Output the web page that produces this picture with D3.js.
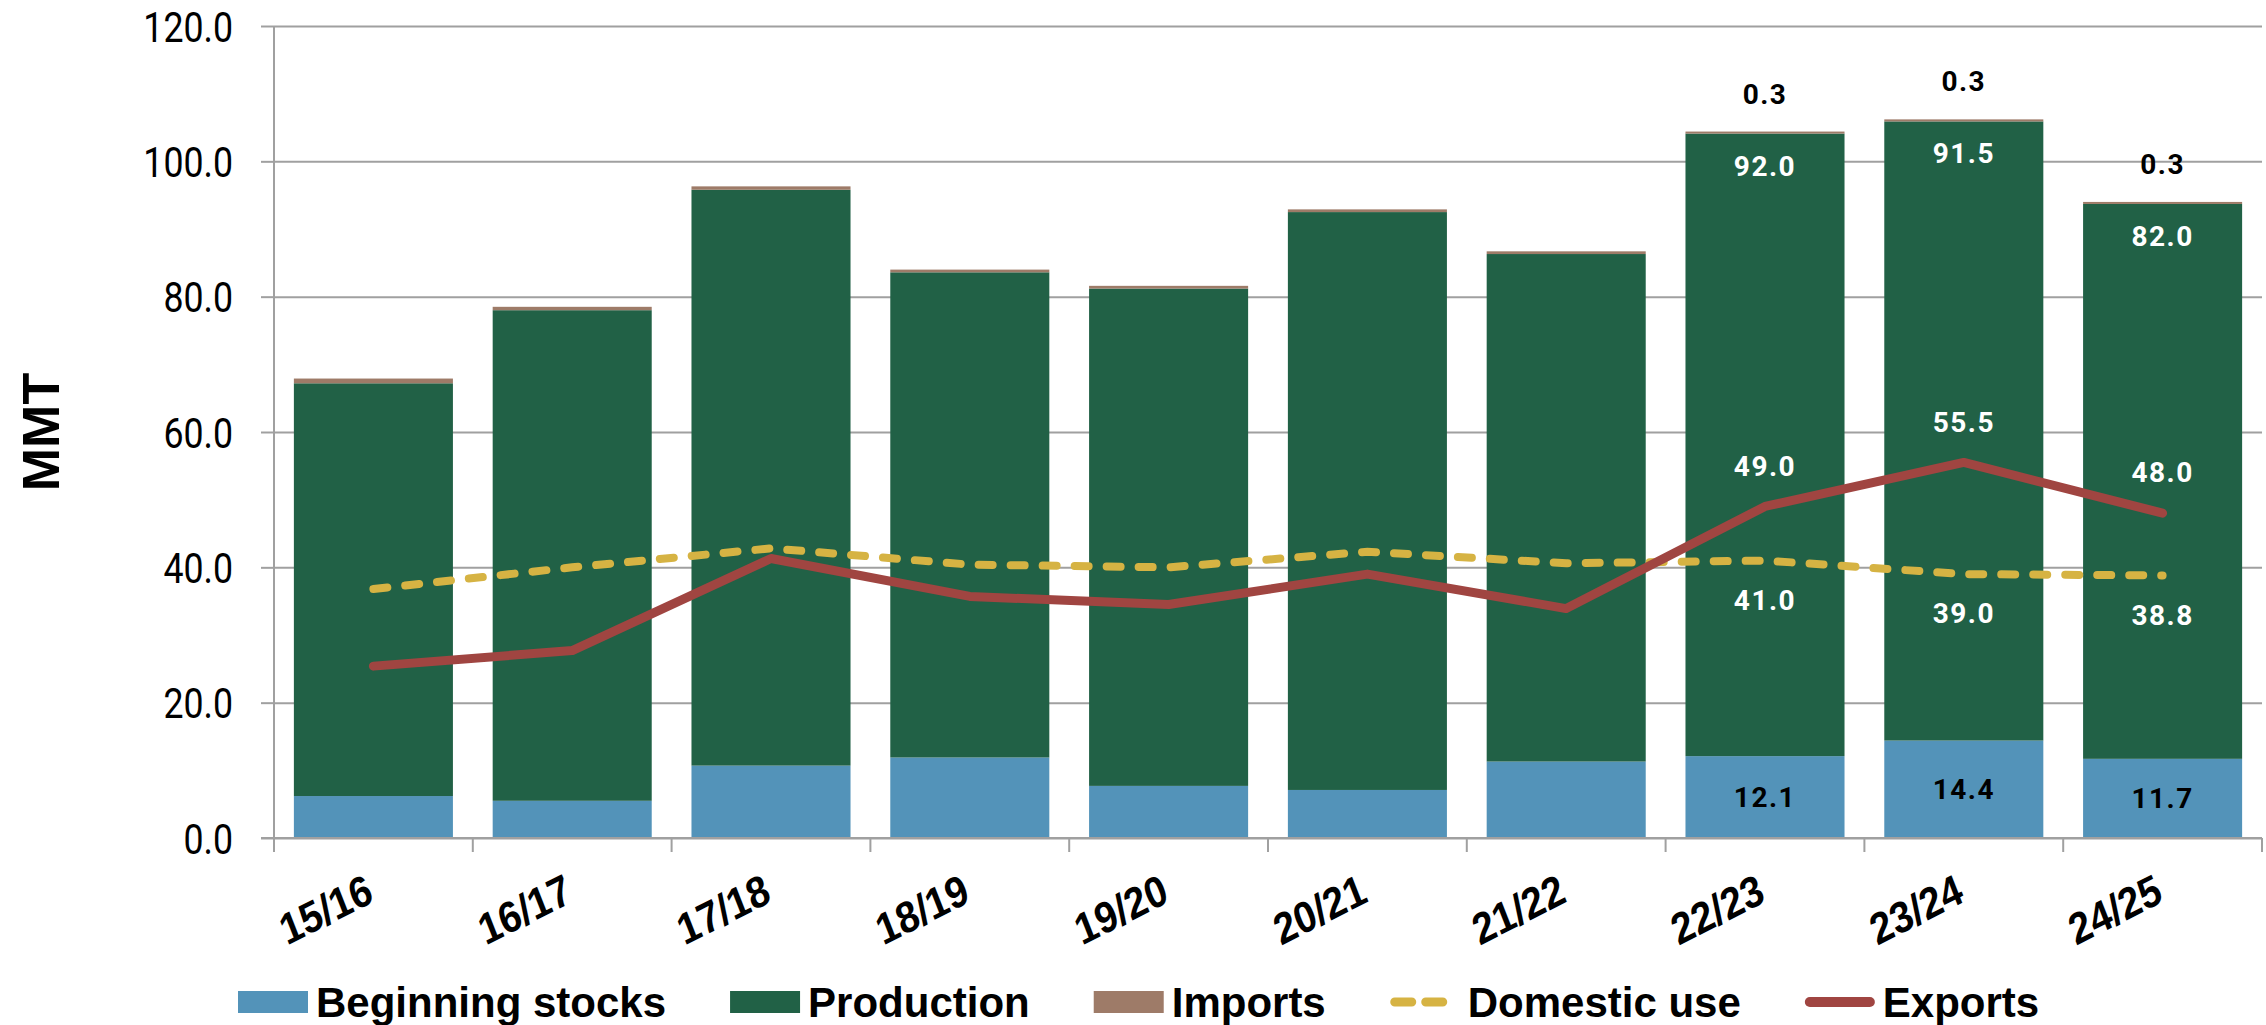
<!DOCTYPE html>
<html>
<head>
<meta charset="utf-8">
<script src="https://cdn.jsdelivr.net/npm/d3@7"></script>
<style>
  html, body { margin: 0; padding: 0; background: #fff; }
  svg { display: block; }
</style>
</head>
<body>
<svg id="chart" width="2266" height="1025"></svg>
<script>
// ---- Data (MMT) ----
const categories = ["15/16", "16/17", "17/18", "18/19", "19/20", "20/21", "21/22", "22/23", "23/24", "24/25"];
const beginningStocks = [6.2, 5.5, 10.7, 11.9, 7.7, 7.1, 11.3, 12.1, 14.4, 11.7];
const production = [61.0, 72.5, 85.1, 71.7, 73.5, 85.4, 75.0, 92.0, 91.5, 82.0];
const imports = [0.7, 0.5, 0.5, 0.4, 0.4, 0.4, 0.4, 0.3, 0.3, 0.3];
const domesticUse = [36.8, 40.0, 42.8, 40.4, 40.0, 42.3, 40.6, 41.0, 39.0, 38.8];
const exportsData = [25.4, 27.7, 41.3, 35.7, 34.5, 39.0, 33.9, 49.0, 55.5, 48.0];
const labeledCategories = ["22/23", "23/24", "24/25"];
const yTicks = [0, 20, 40, 60, 80, 100, 120];
const yLabel = "MMT";
const legendItems = ["Beginning stocks", "Production", "Imports", "Domestic use", "Exports"];

// ---- Styles ----
const colors = {
  stocks: "#5393b9",
  production: "#216146",
  imports: "#9e7b68",
  domestic: "#d6b343",
  exports: "#a04541",
  grid: "#a0a0a0"
};

const svg = d3.select("#chart");
const plot = { left: 274, right: 2262, top: 26, bottom: 838 };

const x = d3.scaleBand().domain(categories).range([plot.left, plot.right])
  .paddingInner(0.2).paddingOuter(0.1);
const y = d3.scaleLinear().domain([0, 120]).range([plot.bottom, plot.top]);

// table for stacking
const table = categories.map((c, i) => ({
  cat: c, stocks: beginningStocks[i], production: production[i], imports: imports[i],
  domestic: domesticUse[i], exports: exportsData[i]
}));

// ---- Gridlines ----
const gridG = svg.append("g").attr("transform", `translate(${plot.left},0)`)
  .call(d3.axisLeft(y).tickValues(yTicks).tickSizeInner(-(plot.right - plot.left)).tickSizeOuter(0).tickFormat(""));
gridG.select(".domain").remove();
gridG.selectAll("line").attr("stroke", colors.grid).attr("stroke-width", 2);

// ---- Y axis with labels ----
const yAxisG = svg.append("g").attr("transform", `translate(${plot.left},0)`)
  .call(d3.axisLeft(y).tickValues(yTicks).tickSize(13).tickFormat(d3.format(".1f")));
yAxisG.select(".domain").remove();
yAxisG.selectAll("line").attr("stroke", colors.grid).attr("stroke-width", 2);
yAxisG.selectAll("text")
  .attr("x", 0).attr("dy", "0.36em")
  .attr("transform", "translate(-41,0) scale(0.85,1)")
  .attr("text-anchor", "end")
  .attr("fill", "#000")
  .style("font-family", "Roboto, 'Noto Sans', sans-serif")
  .style("font-size", "42px");

// ---- Stacked bars ----
const stack = d3.stack().keys(["stocks", "production", "imports"]);
const series = stack(table);
const barG = svg.append("g");
barG.selectAll("g.layer").data(series).join("g")
  .attr("class", "layer")
  .attr("fill", d => colors[d.key])
  .selectAll("rect").data(d => d).join("rect")
  .attr("x", d => x(d.data.cat))
  .attr("width", x.bandwidth())
  .attr("y", d => y(d[1]))
  .attr("height", d => y(d[0]) - y(d[1]));

// ---- Axis lines (drawn over bars) ----
svg.append("line")
  .attr("x1", plot.left).attr("x2", plot.left)
  .attr("y1", plot.top).attr("y2", plot.bottom + 14)
  .attr("stroke", colors.grid).attr("stroke-width", 2);
svg.append("line")
  .attr("x1", plot.left - 13).attr("x2", plot.right)
  .attr("y1", plot.bottom).attr("y2", plot.bottom)
  .attr("stroke", colors.grid).attr("stroke-width", 2);
// boundary ticks
const boundaries = d3.range(categories.length + 1).map(i => plot.left + i * x.step());
svg.append("g").selectAll("line").data(boundaries).join("line")
  .attr("x1", d => d).attr("x2", d => d)
  .attr("y1", plot.bottom).attr("y2", plot.bottom + 14)
  .attr("stroke", colors.grid).attr("stroke-width", 2);

// ---- X axis labels ----
const xAxisG = svg.append("g").attr("transform", `translate(0,${plot.bottom})`)
  .call(d3.axisBottom(x).tickSize(0).tickPadding(0));
xAxisG.select(".domain").remove();
xAxisG.selectAll("text")
  .attr("x", 0).attr("y", 0).attr("dy", 0)
  .attr("transform", "translate(2,63) scale(0.88,1) rotate(-24)")
  .attr("text-anchor", "end")
  .attr("fill", "#000")
  .style("font-family", "'Liberation Sans', Arial, sans-serif")
  .style("font-weight", "bold")
  .style("font-size", "44px");

// ---- Lines ----
const cx = c => x(c) + x.bandwidth() / 2;
const domLine = d3.line().x(d => cx(d.cat)).y(d => y(d.domestic));
const expLine = d3.line().x(d => cx(d.cat)).y(d => y(d.exports));
svg.append("path").datum(table)
  .attr("d", domLine).attr("fill", "none")
  .attr("stroke", colors.domestic).attr("stroke-width", 8)
  .attr("stroke-dasharray", "14,18").attr("stroke-linecap", "round");
svg.append("path").datum(table)
  .attr("d", expLine).attr("fill", "none")
  .attr("stroke", colors.exports).attr("stroke-width", 9)
  .attr("stroke-linecap", "round").attr("stroke-linejoin", "round");

// ---- Value labels ----
const fmt = d3.format(".1f");
const lab = table.filter(d => labeledCategories.includes(d.cat));
const labelG = svg.append("g")
  .style("font-family", "Roboto, 'Noto Sans', sans-serif")
  .style("font-weight", "bold")
  .style("font-size", "28px")
  .style("letter-spacing", "1.5px")
  .attr("text-anchor", "middle");
function addLabels(getY, getText, fill) {
  labelG.append("g").selectAll("text").data(lab).join("text")
    .attr("x", d => cx(d.cat))
    .attr("y", getY)
    .attr("dy", "0.36em")
    .attr("fill", fill)
    .text(getText);
}
addLabels(d => (y(0) + y(d.stocks)) / 2, d => fmt(d.stocks), "#000");
addLabels(d => y(d.stocks + d.production) + 32, d => fmt(d.production), "#fff");
addLabels(d => y(d.stocks + d.production + d.imports) - 38, d => fmt(d.imports), "#000");
addLabels(d => y(d.exports) - 41, d => fmt(d.exports), "#fff");
addLabels(d => y(d.domestic) + 39, d => fmt(d.domestic), "#fff");

// ---- Y axis title ----
svg.append("text")
  .attr("transform", `translate(40,${(plot.top + plot.bottom) / 2}) rotate(-90)`)
  .attr("text-anchor", "middle")
  .attr("dy", "0.36em")
  .style("font-family", "'Liberation Sans', Arial, sans-serif")
  .style("font-weight", "bold")
  .style("font-size", "52px")
  .text(yLabel);

// ---- Legend ----
const legendG = svg.append("g").attr("transform", "translate(0,1002)");
const swW = 70, swH = 22, gapText = 8, gapItem = 64;
let lx = 238;
legendItems.forEach((name, i) => {
  const g = legendG.append("g").attr("transform", `translate(${lx},0)`);
  if (i < 3) {
    const key = ["stocks", "production", "imports"][i];
    g.append("rect").attr("x", 0).attr("y", -swH / 2).attr("width", swW).attr("height", swH)
      .attr("fill", colors[key]);
  } else if (i === 3) {
    g.append("line").attr("x1", 5).attr("x2", swW - 4).attr("y1", 0).attr("y2", 0)
      .attr("stroke", colors.domestic).attr("stroke-width", 9)
      .attr("stroke-dasharray", "17,14").attr("stroke-linecap", "round");
  } else {
    g.append("line").attr("x1", 5).attr("x2", swW - 5).attr("y1", 0).attr("y2", 0)
      .attr("stroke", colors.exports).attr("stroke-width", 10)
      .attr("stroke-linecap", "round");
  }
  const t = g.append("text").attr("x", swW + gapText).attr("y", 0).attr("dy", "0.35em")
    .style("font-family", "'Liberation Sans', Arial, sans-serif")
    .style("font-weight", "bold")
    .style("font-size", "42px")
    .attr("fill", "#000")
    .text(name);
  lx += swW + gapText + t.node().getComputedTextLength() + gapItem;
});
</script>
</body>
</html>
